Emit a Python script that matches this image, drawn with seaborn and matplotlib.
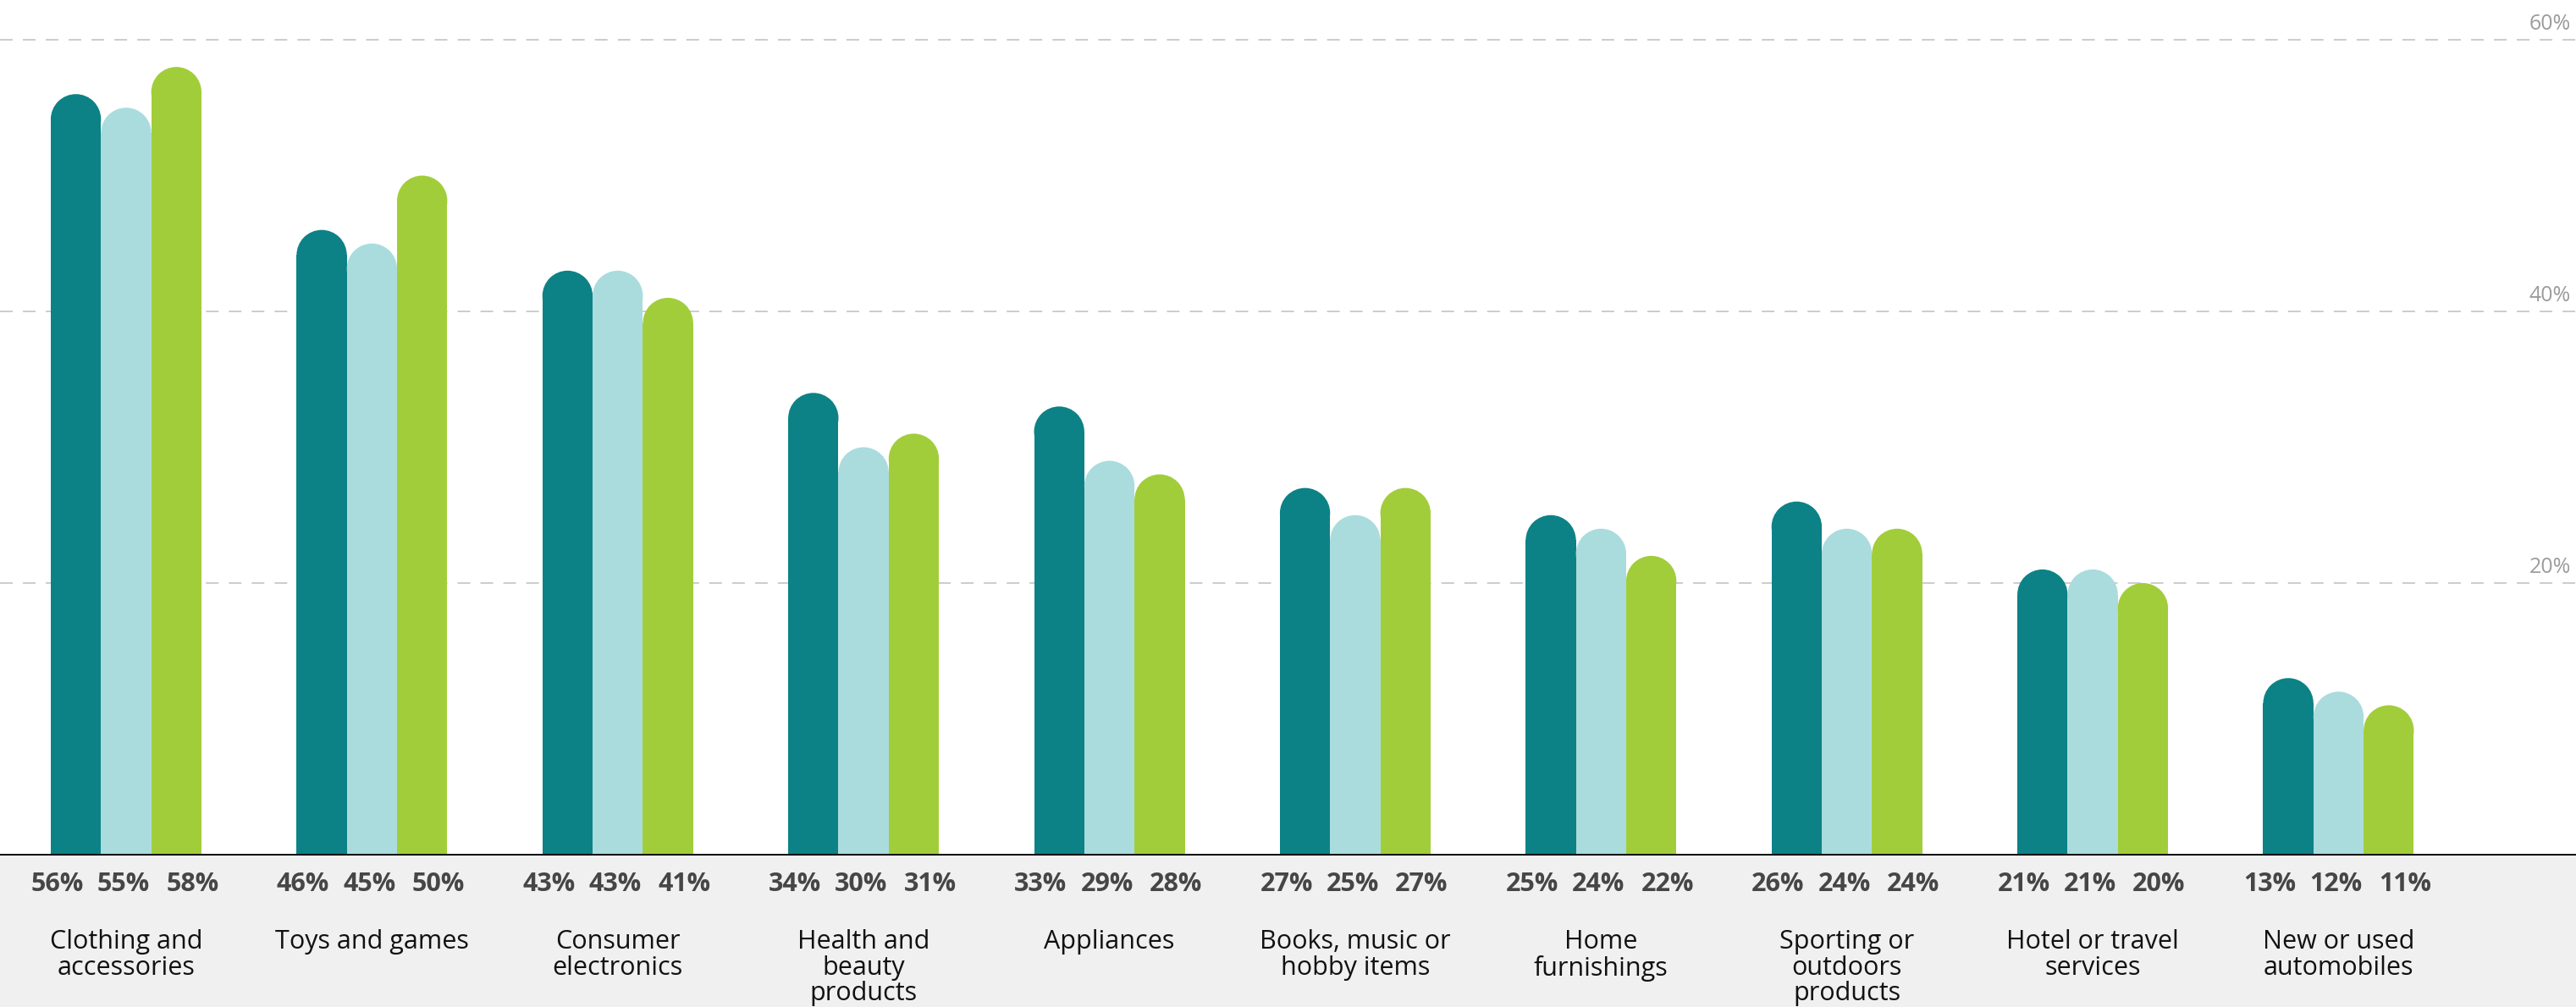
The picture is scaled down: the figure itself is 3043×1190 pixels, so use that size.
import pandas as pd
import numpy as np
import matplotlib
matplotlib.use("Agg")
import matplotlib.pyplot as plt
import matplotlib.transforms as mtransforms
from matplotlib.patches import Ellipse
import seaborn as sns

# data
categories = [
    "Clothing and\naccessories",
    "Toys and games",
    "Consumer\nelectronics",
    "Health and\nbeauty\nproducts",
    "Appliances",
    "Books, music or\nhobby items",
    "Home\nfurnishings",
    "Sporting or\noutdoors\nproducts",
    "Hotel or travel\nservices",
    "New or used\nautomobiles",
]
series_names = ["Series 1", "Series 2", "Series 3"]
series_1 = [56, 46, 43, 34, 33, 27, 25, 26, 21, 13]
series_2 = [55, 45, 43, 30, 29, 25, 24, 24, 21, 12]
series_3 = [58, 50, 41, 31, 28, 27, 22, 24, 20, 11]
y_ticks = [20, 40, 60]
y_tick_labels = ["20%", "40%", "60%"]

colors = ["#0c8286", "#aadcde", "#a2cd3a"]

rows = []
for name, vals in zip(series_names, [series_1, series_2, series_3]):
    for cat, v in zip(categories, vals):
        rows.append({"category": cat, "series": name, "value": v})
df = pd.DataFrame(rows)

sns.set_theme(style="white")
plt.rcParams["font.family"] = ["Open Sans", "DejaVu Sans"]

fig = plt.figure(figsize=(30.43, 11.90), dpi=100, facecolor="#f0f0f0")
ax = fig.add_axes([0, 0.1513, 1, 0.8487])
ax.set_facecolor("white")

sns.barplot(data=df, x="category", y="value", hue="series",
            hue_order=series_names, palette=colors, saturation=1,
            width=0.613, linewidth=0, legend=False, ax=ax)

ax.set_xlim(-0.513, 9.966)
ax.set_ylim(0, 62.93)

# dashed grid
ax.set_yticks(y_ticks)
ax.yaxis.grid(True, color="#cccccc", linewidth=1.4, linestyle=(0, (7.7, 6.2)))
ax.set_axisbelow(True)
ax.tick_params(axis="both", length=0, labelleft=False, labelbottom=False)
ax.set_xlabel("")
ax.set_ylabel("")
for s in ["top", "left", "right"]:
    ax.spines[s].set_visible(False)
ax.spines["bottom"].set_color("black")
ax.spines["bottom"].set_linewidth(1.4)

# y labels at the right, just above each grid line
for t, lab in zip(y_ticks, y_tick_labels):
    ax.annotate(lab, xy=(0.998, t), xycoords=("axes fraction", "data"),
                xytext=(0, 12), textcoords="offset pixels",
                ha="right", va="baseline", fontsize=18, color="#9c9c9c")

# rounded tops
fig.canvas.draw()
ppx = ax.transData.transform((1, 0))[0] - ax.transData.transform((0, 0))[0]
ppy = ax.transData.transform((0, 1))[1] - ax.transData.transform((0, 0))[1]
for p in list(ax.patches):
    x, w, h = p.get_x(), p.get_width(), p.get_height()
    ry = (w * ppx / 2) / ppy
    p.set_height(h - ry)
    ax.add_patch(Ellipse((x + w / 2, h - ry), w, 2 * ry,
                         facecolor=p.get_facecolor(), linewidth=0))

# value labels and category names in the grey band
trans = mtransforms.blended_transform_factory(ax.transData, ax.transAxes)
label_offsets = [-0.28, -0.01, 0.27]
for i, vals in enumerate([series_1, series_2, series_3]):
    for j, v in enumerate(vals):
        ax.text(j + label_offsets[i], -0.0347, f"{v}%", transform=trans,
                ha="center", va="center", fontsize=22, fontweight="bold",
                color="#464646", clip_on=False)
for j, cat in enumerate(categories):
    ax.text(j, -0.087, cat, transform=trans, ha="center", va="top",
            fontsize=22, color="#111111", linespacing=1.03, clip_on=False)

fig.savefig("out.png", dpi=100, facecolor=fig.get_facecolor())
